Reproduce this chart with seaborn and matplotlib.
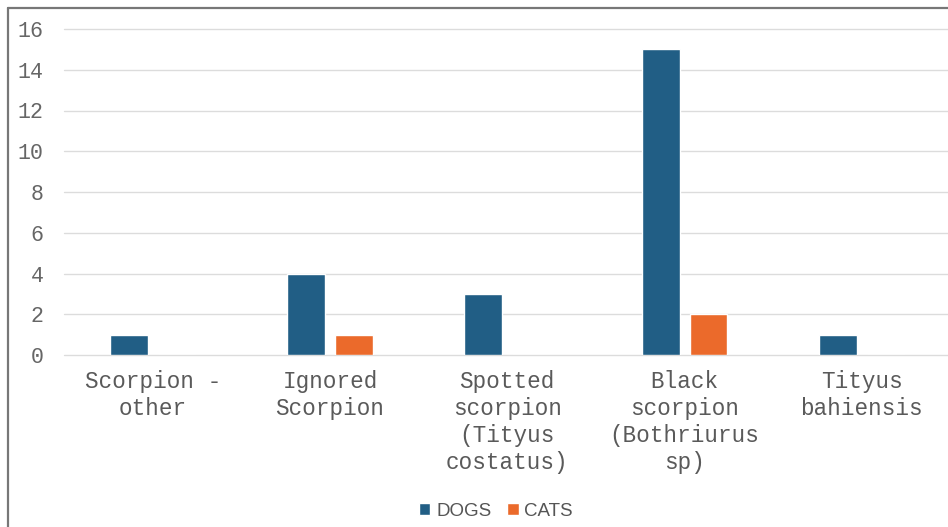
import numpy as np
import pandas as pd
import matplotlib
matplotlib.use("Agg")
import matplotlib.pyplot as plt
from matplotlib.lines import Line2D
import seaborn as sns

# Scorpion species involved in reported stings
categories = [
    "Scorpion -\nother",
    "Ignored\nScorpion",
    "Spotted\nscorpion\n(Tityus\ncostatus)",
    "Black\nscorpion\n(Bothriurus\nsp)",
    "Tityus\nbahiensis",
]
dogs = [1, 4, 3, 15, 1]
cats = [0, 1, 0, 2, 0]
series_names = ["DOGS", "CATS"]
y_ticks = [0, 2, 4, 6, 8, 10, 12, 14, 16]

df = pd.DataFrame({
    "species": categories * 2,
    "animal": [series_names[0]] * len(categories) + [series_names[1]] * len(categories),
    "count": dogs + cats,
})

sns.set_theme(style="white")
plt.rcParams["font.family"] = ["Liberation Mono", "DejaVu Sans Mono"]

fig = plt.figure(figsize=(9.48, 5.27), dpi=100)
ax = fig.add_axes([64 / 948, 1 - 355 / 527, 886.5 / 948, (355 - 29) / 527])

palette = {"DOGS": "#215e85", "CATS": "#eb6a2b"}
sns.barplot(
    data=df, x="species", y="count", hue="animal", order=categories,
    hue_order=series_names, palette=palette, width=0.54, gap=0.207,
    saturation=1, errorbar=None, ax=ax, legend=True,
)

ax.set_ylim(0, 16)
ax.set_xlim(-0.5, len(categories) - 0.5)
ax.set_yticks(y_ticks)
ax.set_yticklabels([str(v) for v in y_ticks])
ax.set_xticks(range(len(categories)))
ax.set_xticklabels(categories, linespacing=1.23)
ax.set_xlabel("")
ax.set_ylabel("")
ax.yaxis.grid(True, color="#dcdcdc", linewidth=1.0)
ax.set_axisbelow(True)
for spine in ax.spines.values():
    spine.set_visible(False)
ax.tick_params(axis="y", length=0, pad=14.5, labelsize=15.6, labelcolor="#666666")
ax.tick_params(axis="x", length=0, pad=10.5, labelsize=16.3, labelcolor="#5a5a5a")
for gl in ax.get_ygridlines():
    gl.set_clip_on(False)

# legend below the plot
handles, labels = ax.get_legend_handles_labels()
ax.get_legend().remove()
fig.legend(
    handles, labels, loc="center", bbox_to_anchor=(496 / 948, 1 - 511 / 527),
    ncol=2, frameon=False, handlelength=0.6, handleheight=0.6,
    handletextpad=0.3, columnspacing=0.85,
    prop={"family": "Liberation Sans", "size": 13.5},
    labelcolor="#555555",
)

# outer frame edges
fig.add_artist(Line2D([8 / 948, 1.0], [1 - 8 / 527, 1 - 8 / 527],
                      transform=fig.transFigure, color="#777777", linewidth=1.6))
fig.add_artist(Line2D([8 / 948, 8 / 948], [1 - 8 / 527, 0.0],
                      transform=fig.transFigure, color="#777777", linewidth=1.6))

fig.savefig("out.png", dpi=100, facecolor="white")
